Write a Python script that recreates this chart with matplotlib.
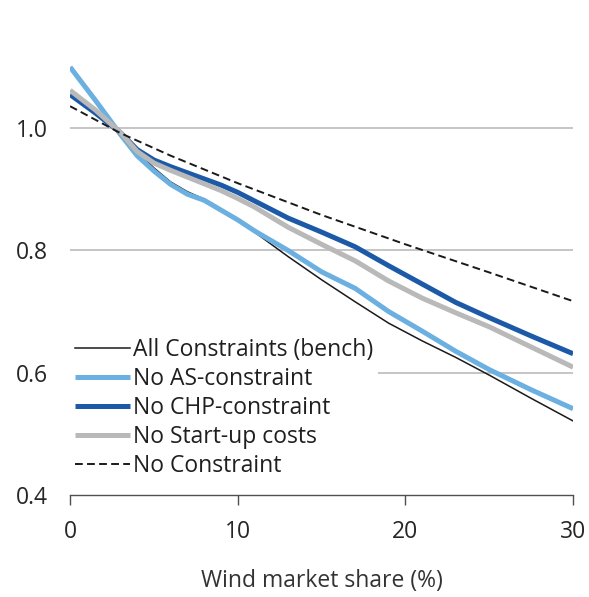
import numpy as np
import matplotlib.pyplot as plt

plt.rcParams['font.family'] = ['Open Sans', 'DejaVu Sans']

# wind market share (%) and relative values
x_bench = [0, 1.5, 3, 4, 5, 6, 7, 8, 9, 10, 11, 13, 15, 17, 19, 21, 23, 25, 27.5, 30]
all_constraints = [1.06, 1.03, 0.995, 0.962, 0.935, 0.912, 0.896, 0.884, 0.868, 0.85, 0.83,
                   0.79, 0.752, 0.716, 0.681, 0.652, 0.625, 0.596, 0.558, 0.521]
no_as = [1.10, 1.046, 0.99, 0.955, 0.93, 0.908, 0.892, 0.882, 0.866, 0.85, 0.832,
         0.80, 0.765, 0.738, 0.700, 0.668, 0.635, 0.605, 0.572, 0.541]
no_chp = [1.055, 1.025, 0.993, 0.965, 0.948, 0.937, 0.927, 0.917, 0.907, 0.895, 0.881,
          0.853, 0.83, 0.806, 0.775, 0.745, 0.715, 0.69, 0.66, 0.631]
no_startup = [1.062, 1.03, 0.993, 0.962, 0.943, 0.931, 0.92, 0.909, 0.898, 0.885, 0.871,
              0.838, 0.81, 0.783, 0.750, 0.722, 0.698, 0.675, 0.642, 0.609]

x_nc = [0, 3, 6, 10, 15, 20, 25, 30]
no_constraint = [1.036, 0.992, 0.955, 0.91, 0.858, 0.81, 0.764, 0.717]

labels = ['All Constraints (bench)', 'No AS-constraint', 'No CHP-constraint',
          'No Start-up costs', 'No Constraint']

fig = plt.figure(figsize=(5.89, 5.97), dpi=100)
ax = fig.add_axes([0.119, 0.1710, 0.854, 0.819])

for yv in [0.6, 0.8, 1.0]:
    ax.axhline(yv, color='#c0c0c0', lw=1.3, zorder=0)

ax.plot(x_bench, all_constraints, color='#1a1a1a', lw=1.1, label=labels[0])
ax.plot(x_bench, no_as, color='#6cb0e2', lw=3.6, label=labels[1], solid_capstyle='butt')
ax.plot(x_bench, no_chp, color='#1c5aa8', lw=3.6, label=labels[2], solid_capstyle='butt')
ax.plot(x_bench, no_startup, color='#b9b9b9', lw=3.6, label=labels[3], solid_capstyle='butt')
ax.plot(x_nc, no_constraint, color='#1a1a1a', lw=1.4, ls=(0, (4, 2.2)), label=labels[4])

ax.set_xlim(0, 30)
ax.set_ylim(0.4, 1.2)
ax.set_xticks([0, 10, 20, 30])
ax.set_yticks([0.4, 0.6, 0.8, 1.0])
ax.set_yticklabels(['0.4', '0.6', '0.8', '1.0'])

for s in ['top', 'right', 'left']:
    ax.spines[s].set_visible(False)
ax.spines['bottom'].set_color('#505050')
ax.spines['bottom'].set_linewidth(1.0)
ax.tick_params(axis='y', length=0, pad=16, labelsize=16.5, colors='#262626')
ax.tick_params(axis='x', length=7, width=1.0, color='#505050', pad=11,
               labelsize=16.5, labelcolor='#262626')

ax.set_xlabel('Wind market share (%)', fontsize=16.5, color='#333333', labelpad=18)

leg = ax.legend(loc='lower left', bbox_to_anchor=(0.0, 0.025), fontsize=16.5,
                frameon=True, handlelength=2.4, handletextpad=0.15,
                labelspacing=0.22, borderpad=0.2, borderaxespad=0.0)
leg.get_frame().set_facecolor('white')
leg.get_frame().set_edgecolor('none')
leg.get_frame().set_alpha(1.0)
for t in leg.get_texts():
    t.set_color('#1f1f1f')

fig.savefig('out.png', dpi=100)
